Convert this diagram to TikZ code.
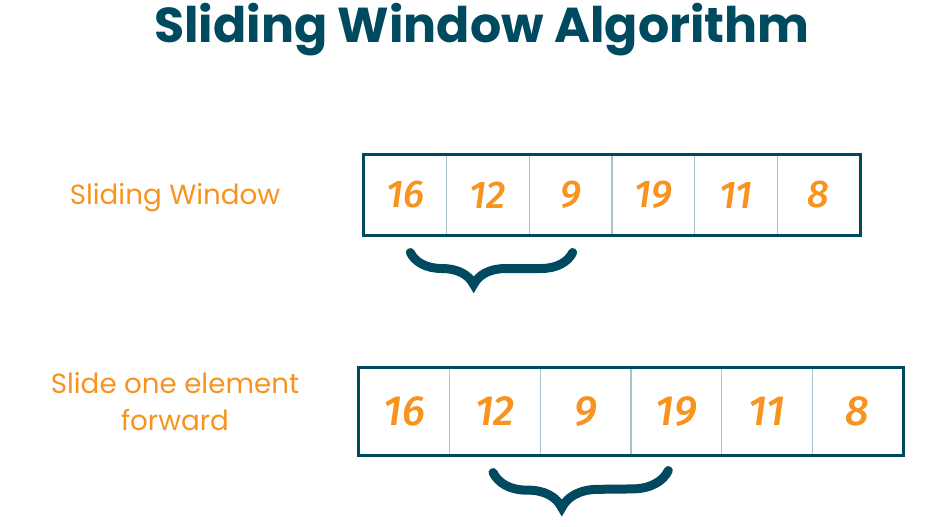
\documentclass[tikz,border=0pt]{standalone}
\usepackage{fontspec}
\setmainfont{Poppins}
\newfontfamily\numfont{Fira Sans}[BoldItalicFont=* Medium Italic]
\usepackage{tikz}
\usetikzlibrary{positioning, calc, decorations.pathreplacing}

\definecolor{teal}{HTML}{004A60}
\definecolor{sworange}{HTML}{F7931E}
\definecolor{divider}{HTML}{A9C2CB}

\begin{document}
\begin{tikzpicture}[
        x=0.02cm, y=-0.02cm,
        topcell/.style={draw=divider, line width=0.6pt,
                        minimum width=1.653cm, minimum height=1.6cm,
                        inner sep=0pt, text=sworange,
                        font=\numfont\bfseries\itshape\fontsize{22}{22}\selectfont},
        botcell/.style={topcell, minimum width=1.813cm, minimum height=1.74cm,
                        font=\numfont\bfseries\itshape\fontsize{24}{24}\selectfont},
        frame/.style={draw=teal, line width=1.6pt},
        lbl/.style={text=sworange, font=\fontsize{15.8}{21}\selectfont, align=center},
        brc/.style={draw=teal, line width=0.18cm, line cap=round,
                    decorate, decoration={brace, mirror, aspect=0.39}}
    ]
    \useasboundingbox (0,0) rectangle (933,527);
    % Title
    \node[text=teal, font=\bfseries\fontsize{27.9}{30}\selectfont, anchor=base]
        (title) at (482,43) {Sliding Window Algorithm};
    % Labels
    \node[lbl] (lab1) at (175,198) {Sliding Window};
    \node[lbl] (lab2) at (175,402) {Slide one element\\forward};
    % Arrays
    \foreach \v [count=\i] in {16,12,9,19,11,8} {
        \node[topcell] (t\i) at ({364+82.67*(\i-0.5)},195) {\v};
        \node[botcell] (b\i) at ({359+90.67*(\i-0.5)},411.5) {\v};
    }
    \draw[frame] (t1.north west) rectangle (t6.south east);
    \draw[frame] (b1.north west) rectangle (b6.south east);
    % Windows
    \draw[brc, decoration={amplitude=0.64cm}]
        ($(t1.south)+(5,17)$) -- ($(t3.south)+(2,17)$);
    \draw[brc, decoration={amplitude=0.72cm}]
        ($(b2.south)+(-2,17)$) -- ($(b4.south)+(-8,15)$);
\end{tikzpicture}
\end{document}
